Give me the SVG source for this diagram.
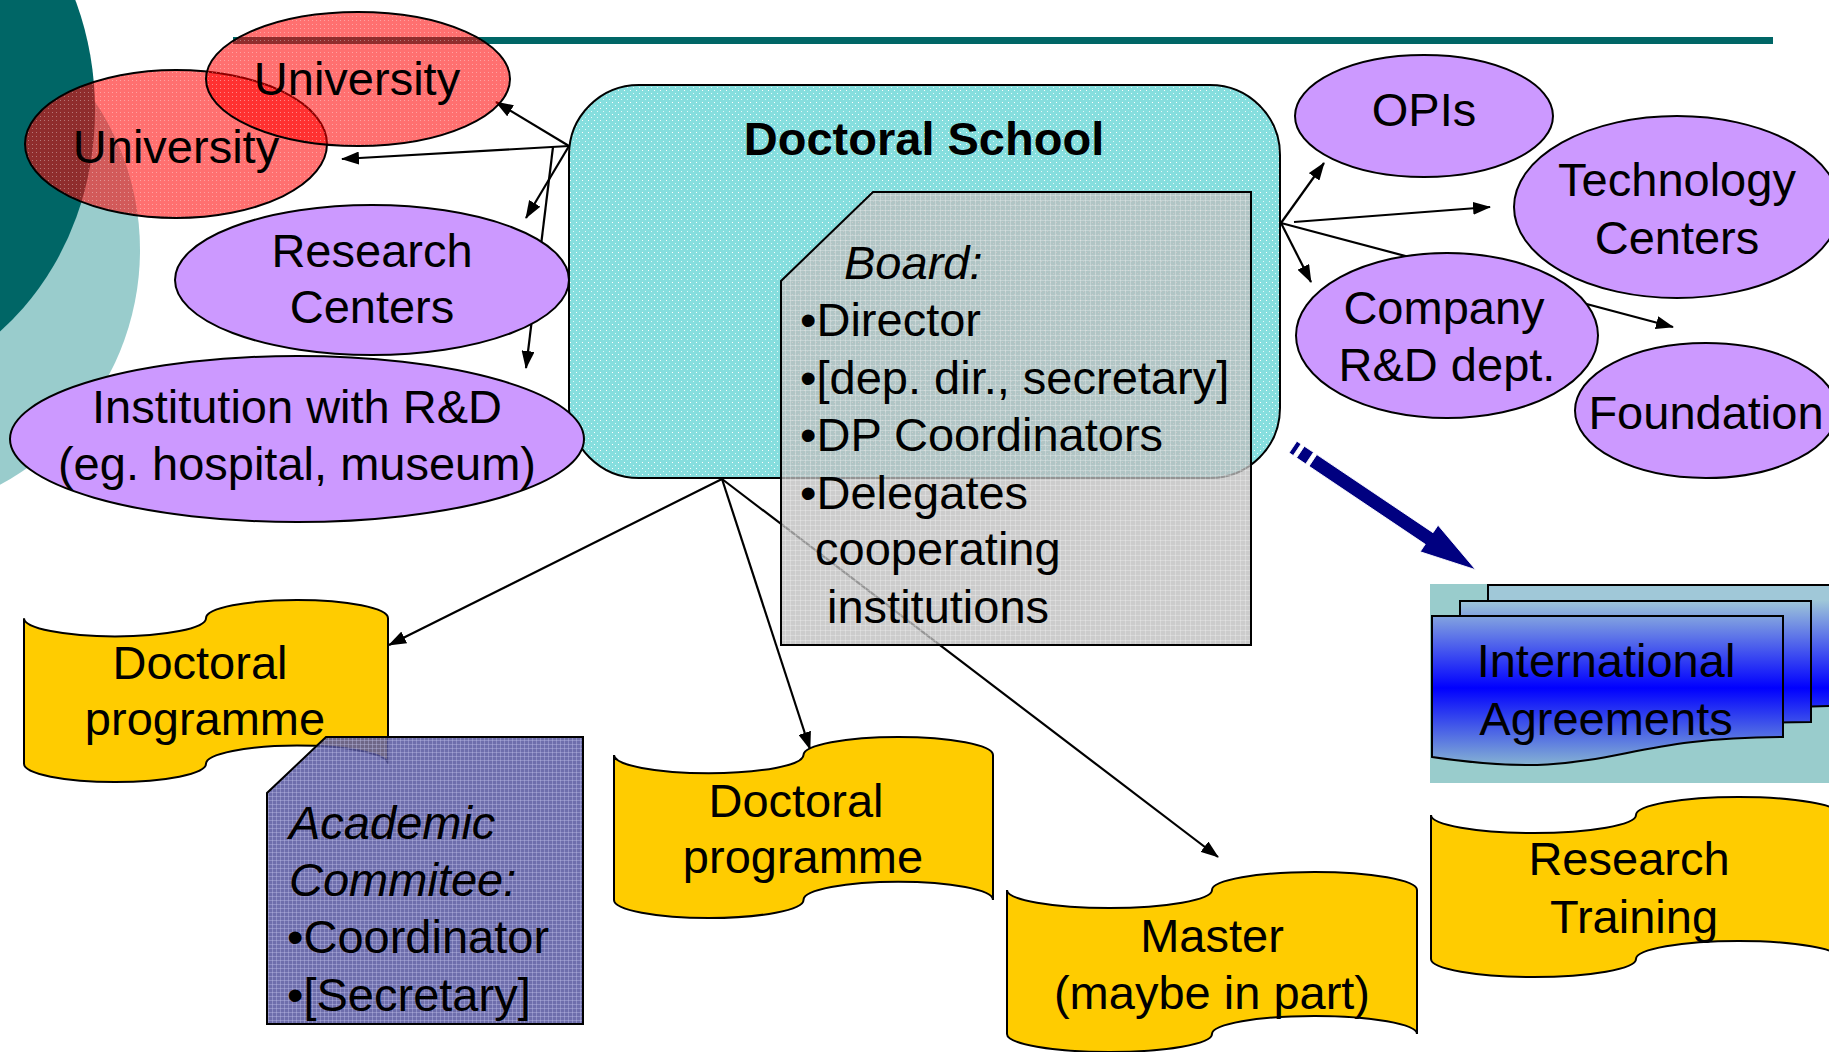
<svg xmlns="http://www.w3.org/2000/svg" width="1829" height="1052" viewBox="0 0 1829 1052">
<defs>
<style>
text{font-family:"Liberation Sans",Arial,sans-serif;font-size:47px;fill:#000}
.c{text-anchor:middle}
.it{font-style:italic}
.b{font-weight:bold}
.ol{stroke:#000;stroke-width:2}
.red{fill:url(#pRed)}
.lil{fill:#CC99FF}
.yel{fill:#FFCC00}
.con{stroke:#000;stroke-width:2.2;fill:none;marker-end:url(#ah)}
</style>
<marker id="ah" viewBox="0 0 18 13" refX="17" refY="6.5" markerWidth="18" markerHeight="13" orient="auto" markerUnits="userSpaceOnUse"><path d="M0,0 L18,6.5 L0,13 z" fill="#000"/></marker>
<linearGradient id="intl" gradientUnits="userSpaceOnUse" x1="0" y1="600" x2="0" y2="776">
<stop offset="0" stop-color="#A0C8D8"/>
<stop offset="0.5" stop-color="#0000FF"/>
<stop offset="1" stop-color="#99CCCC"/>
</linearGradient>
<pattern id="pCyan" width="6" height="6" patternUnits="userSpaceOnUse">
<rect width="6" height="6" fill="#86DEDE"/>
<rect x="0" y="0" width="1" height="1" fill="#FFFFFF"/>
<rect x="3" y="3" width="1" height="1" fill="#E6FAFA"/>
</pattern>
<pattern id="pRed" width="4" height="4" patternUnits="userSpaceOnUse">
<rect width="4" height="4" fill="#FF0000" fill-opacity="0.56"/>
<rect x="0" y="0" width="1" height="1" fill="#FFFFFF" fill-opacity="0.35"/>
</pattern>
<pattern id="pGray" width="5" height="5" patternUnits="userSpaceOnUse">
<rect width="5" height="5" fill="#BEBEBE" fill-opacity="0.78"/>
<rect x="0" y="0" width="5" height="1" fill="#FFFFFF" fill-opacity="0.25"/>
<rect x="0" y="0" width="1" height="5" fill="#FFFFFF" fill-opacity="0.25"/>
</pattern>
<pattern id="pBlue" width="4" height="4" patternUnits="userSpaceOnUse">
<rect width="4" height="4" fill="#55559E" fill-opacity="0.85"/>
<rect x="0" y="0" width="4" height="1" fill="#C8C8F0" fill-opacity="0.35"/>
<rect x="0" y="0" width="1" height="4" fill="#C8C8F0" fill-opacity="0.35"/>
</pattern>
</defs>

<g id="background">
<circle cx="-127" cy="250" r="267" fill="#99CCCC"/>
<ellipse cx="-150" cy="110" rx="245" ry="280" fill="#006666"/>
<line x1="233" y1="40.5" x2="1773" y2="40.5" stroke="#006666" stroke-width="7"/>
</g>

<g id="connectors">
<line class="con" x1="569" y1="146" x2="496" y2="102"/>
<line class="con" x1="569" y1="146" x2="342" y2="159"/>
<line class="con" x1="569" y1="146" x2="526" y2="218"/>
<line class="con" x1="553" y1="147" x2="526" y2="368"/>
<line class="con" x1="1281" y1="223" x2="1324" y2="163"/>
<line class="con" x1="1294" y1="222" x2="1490" y2="207"/>
<line class="con" x1="1281" y1="223" x2="1311" y2="282"/>
<line class="con" x1="1281" y1="223" x2="1673" y2="327"/>
<line class="con" x1="722" y1="479" x2="389" y2="645"/>
<line class="con" x1="722" y1="479" x2="810" y2="749"/>
<line class="con" x1="722" y1="479" x2="1218" y2="857"/>
</g>

<g id="doctoral-school">
<rect x="569" y="85" width="711" height="393" rx="70" ry="70" fill="url(#pCyan)" class="ol"/>
<text class="c b" x="924" y="155">Doctoral School</text>
</g>

<g id="board">
<path d="M873,192 H1251 V645 H781 V281 Z" fill="url(#pGray)" class="ol"/>
<text class="it" x="844" y="279">Board:</text>
<text x="800" y="336">•Director</text>
<text x="800" y="394">•[dep. dir., secretary]</text>
<text x="800" y="451">•DP Coordinators</text>
<text x="800" y="509">•Delegates</text>
<text x="815" y="565">cooperating</text>
<text x="827" y="623">institutions</text>
</g>

<g id="university-2">
<ellipse cx="176" cy="144" rx="151" ry="74" class="red ol"/>
<text class="c" x="176" y="163">University</text>
</g>
<g id="university-1">
<ellipse cx="358" cy="79" rx="152" ry="67" class="red ol"/>
<text class="c" x="357" y="95">University</text>
</g>

<g id="research-centers">
<ellipse cx="372" cy="280" rx="197" ry="75" class="lil ol"/>
<text class="c" x="372" y="267">Research</text>
<text class="c" x="372" y="323">Centers</text>
</g>

<g id="institution">
<ellipse cx="297" cy="439" rx="287" ry="83" class="lil ol"/>
<text class="c" x="297" y="423">Institution with R&amp;D</text>
<text class="c" x="297" y="480">(eg. hospital, museum)</text>
</g>

<g id="opis">
<ellipse cx="1424" cy="116" rx="129" ry="61" class="lil ol"/>
<text class="c" x="1424" y="126">OPIs</text>
</g>

<g id="technology-centers">
<ellipse cx="1677" cy="207" rx="163" ry="91" class="lil ol"/>
<text class="c" x="1677" y="196">Technology</text>
<text class="c" x="1677" y="254">Centers</text>
</g>

<g id="company">
<ellipse cx="1447" cy="335.5" rx="151" ry="82.5" class="lil ol"/>
<text class="c" x="1444" y="324">Company</text>
<text class="c" x="1447" y="381">R&amp;D dept.</text>
</g>

<g id="foundation">
<ellipse cx="1706" cy="410.5" rx="131" ry="67.5" class="lil ol"/>
<text class="c" x="1706" y="429">Foundation</text>
</g>

<g id="doctoral-programme-1">
<path d="M24,618.2 A91,18.2 0 0 0 206,618.2 A91,18.2 0 0 1 388,618.2 L388,763.8 A91,18.2 0 0 0 206,763.8 A91,18.2 0 0 1 24,763.8 Z" class="yel ol"/>
<text class="c" x="200" y="679">Doctoral</text>
<text class="c" x="205" y="735">programme</text>
</g>

<g id="academic-committee">
<path d="M326,737 H583 V1024 H267 V793 Z" fill="url(#pBlue)" class="ol"/>
<text class="it" x="289" y="839">Academic</text>
<text class="it" x="289" y="896">Commitee:</text>
<text x="287" y="953">•Coordinator</text>
<text x="287" y="1011">•[Secretary]</text>
</g>

<g id="doctoral-programme-2">
<path d="M614,755.1 A94.75,18.1 0 0 0 803.5,755.1 A94.75,18.1 0 0 1 993,755.1 L993,899.9 A94.75,18.1 0 0 0 803.5,899.9 A94.75,18.1 0 0 1 614,899.9 Z" class="yel ol"/>
<text class="c" x="796" y="817">Doctoral</text>
<text class="c" x="803" y="873">programme</text>
</g>

<g id="master">
<path d="M1007,890 A102.5,18 0 0 0 1212,890 A102.5,18 0 0 1 1417,890 L1417,1034 A102.5,18 0 0 0 1212,1034 A102.5,18 0 0 1 1007,1034 Z" class="yel ol"/>
<text class="c" x="1212" y="952">Master</text>
<text class="c" x="1212" y="1009">(maybe in part)</text>
</g>

<g id="international-agreements">
<rect x="1430" y="584" width="399" height="199" fill="#99CCCC"/>
<path d="M1488,585 H1839 V706 C1663.5,706 1663.5,752 1488,726 Z" fill="url(#intl)" class="ol"/>
<path d="M1460,601 H1811 V722 C1635.5,722 1635.5,768 1460,742 Z" fill="url(#intl)" class="ol"/>
<path d="M1432,616 H1783 V737 C1607.5,737 1607.5,783 1432,757 Z" fill="url(#intl)" class="ol"/>
<text class="c" x="1606" y="677">International</text>
<text class="c" x="1606" y="735">Agreements</text>
</g>

<g id="research-training">
<path d="M1431,815 A102.5,18 0 0 0 1636,815 A102.5,18 0 0 1 1841,815 L1841,959 A102.5,18 0 0 0 1636,959 A102.5,18 0 0 1 1431,959 Z" class="yel ol"/>
<text class="c" x="1629" y="875">Research</text>
<text class="c" x="1634" y="933">Training</text>
</g>

<g id="striped-arrow" transform="translate(1293,447) rotate(33.9)" fill="#000080" stroke="#FFFFFF" stroke-width="0.8">
<path d="M0,-7 H5 V7 H0 Z"/>
<path d="M9,-7 H20 V7 H9 Z"/>
<path d="M24,-7 H164 V-16 L220,0 L164,16 V7 H24 Z"/>
</g>
</svg>
